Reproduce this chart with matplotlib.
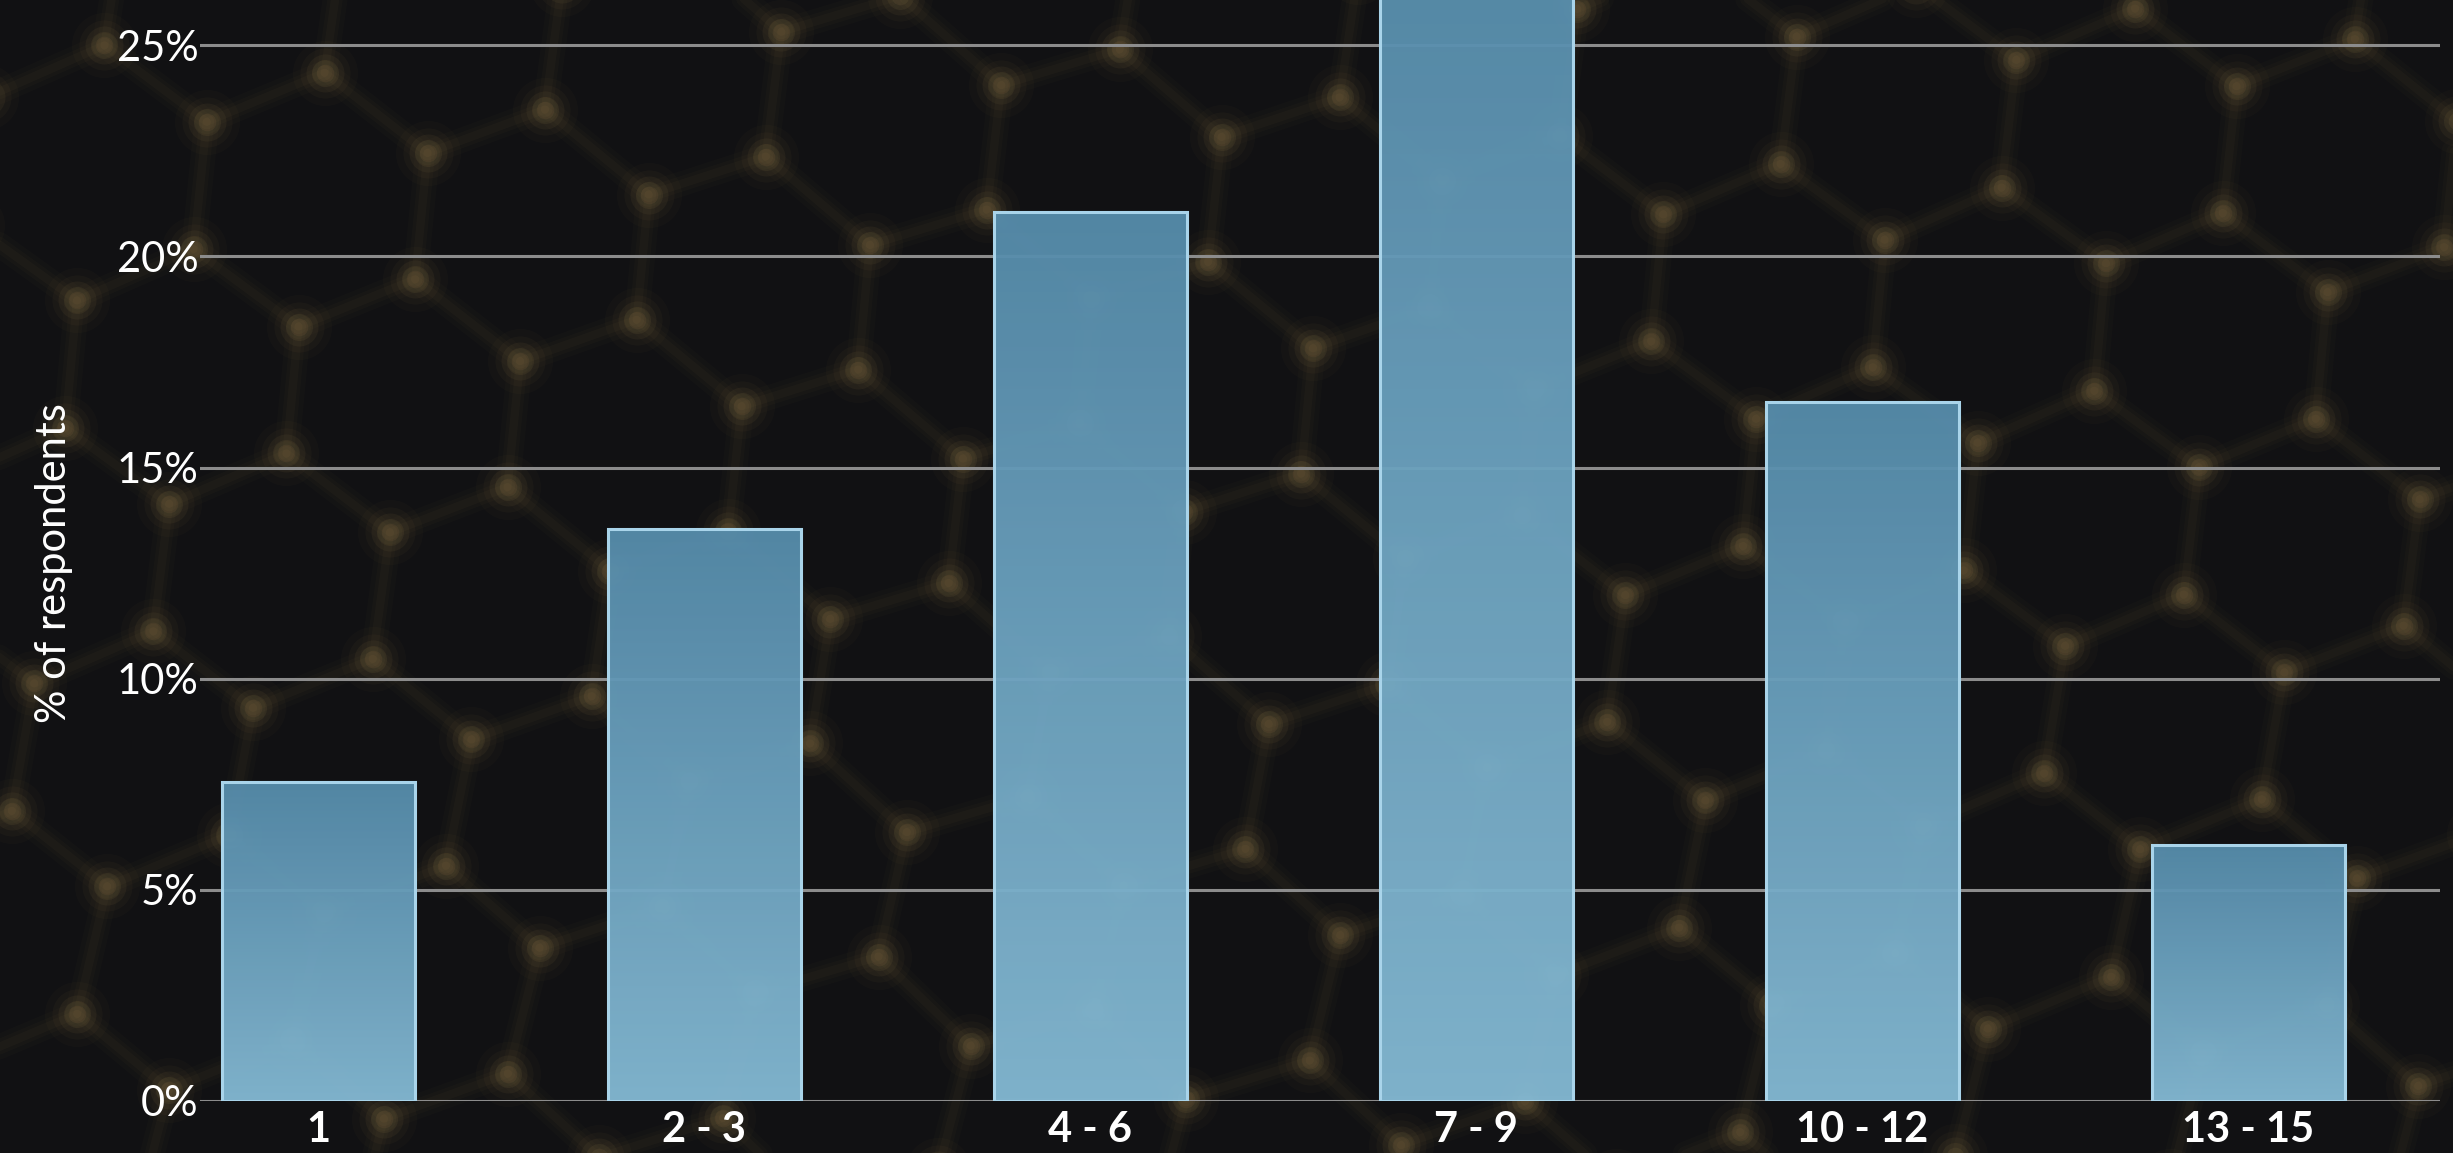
import numpy as np
import matplotlib.pyplot as plt
from matplotlib.collections import LineCollection
from matplotlib.colors import LinearSegmentedColormap

# survey results: share of respondents per group
groups = ['1', '2 - 3', '4 - 6', '7 - 9', '10 - 12', '13 - 15']
share = [7.55, 13.55, 21.05, 28.0, 16.55, 6.05]
yticks = [0, 5, 10, 15, 20, 25]

W, H = 2453, 1153
bg_color = '#111113'

fig = plt.figure(figsize=(W / 100, H / 100), dpi=100, facecolor=bg_color)

# backdrop: soft golden honeycomb
bg = fig.add_axes([0, 0, 1, 1], zorder=0)
bg.set_xlim(0, W)
bg.set_ylim(0, H)
bg.axis('off')
bg.set_facecolor(bg_color)

a = 128
ang = np.deg2rad(20)
ca, sa = np.cos(ang), np.sin(ang)


def warp(p):
    x, y = p
    xr = x * ca - y * sa + 120
    yr = x * sa + y * ca - 200
    return (xr + 22 * np.sin(yr / 260.0), yr + 22 * np.sin(xr / 310.0))


edges = set()
verts = set()
for i in range(-4, 18):
    for j in range(-6, 10):
        cx = i * 1.5 * a
        cy = j * np.sqrt(3) * a + (i % 2) * np.sqrt(3) / 2 * a
        pts = [(round(cx + a * np.cos(k * np.pi / 3), 1),
                round(cy + a * np.sin(k * np.pi / 3), 1)) for k in range(6)]
        for k in range(6):
            e = tuple(sorted([pts[k], pts[(k + 1) % 6]]))
            edges.add(e)
            verts.add(pts[k])

segs = []
for p, q in edges:
    p2, q2 = warp(p), warp(q)
    if -200 < p2[0] < W + 200 and -200 < p2[1] < H + 200:
        segs.append([p2, q2])
nodes = np.array([warp(v) for v in verts])
keep = (nodes[:, 0] > -50) & (nodes[:, 0] < W + 50) & (nodes[:, 1] > -50) & (nodes[:, 1] < H + 50)
nodes = nodes[keep]

gold = '#8a7445'
for lw, al in [(18, 0.03), (11, 0.04), (6, 0.05)]:
    bg.add_collection(LineCollection(segs, colors=gold, linewidths=lw, alpha=al,
                                     capstyle='round'))
for s, al in [(2200, 0.04), (1300, 0.06), (750, 0.09), (380, 0.12), (160, 0.14)]:
    bg.scatter(nodes[:, 0], nodes[:, 1], s=s, color=gold, alpha=al, lw=0)

# main chart
ax = fig.add_axes([200 / W, 52 / H, (2440 - 200) / W, 1101 / H], zorder=1)
ax.set_facecolor('none')
x = np.arange(len(groups))

ax.set_yticks(yticks)
ax.set_yticklabels([f'{v}%' for v in yticks])
ax.yaxis.grid(True, color='#8c8c8c', linewidth=2.2)
ax.set_axisbelow(True)

bars = ax.bar(x, share, width=0.5, color='none', edgecolor='#a9d4ea',
              linewidth=2.2, zorder=3)

grad = LinearSegmentedColormap.from_list('bar', ['#84b9d3', '#568cab'])
ramp = np.linspace(0, 1, 256).reshape(-1, 1)
for b in bars:
    bx, by = b.get_x(), b.get_y()
    bw, bh = b.get_width(), b.get_height()
    im = ax.imshow(ramp, cmap=grad, origin='lower', aspect='auto',
                   extent=[bx, bx + bw, by, by + bh], alpha=0.96, zorder=2)
    im.set_clip_path(b)

ax.set_xlim(-0.306, 5.496)
ax.set_ylim(0, 26.07)
ax.set_xticks(x)
ax.set_xticklabels(groups)

for sp in ax.spines.values():
    sp.set_visible(False)
ax.tick_params(axis='both', length=0)
ax.tick_params(axis='y', pad=1, labelsize=30, labelcolor='white')
ax.tick_params(axis='x', pad=7, labelsize=30, labelcolor='white')
for lab in ax.get_yticklabels():
    lab.set_fontfamily('Lato')
    lab.set_fontweight('normal')
for lab in ax.get_xticklabels():
    lab.set_fontfamily('Lato')
    lab.set_fontweight('bold')

fig.text(54 / W, 1 - 563 / H, '% of respondents', rotation=90, color='white',
         fontsize=30, fontfamily='Lato', fontweight='normal', ha='center', va='center')

fig.savefig('out.png', dpi=100, facecolor=bg_color)
